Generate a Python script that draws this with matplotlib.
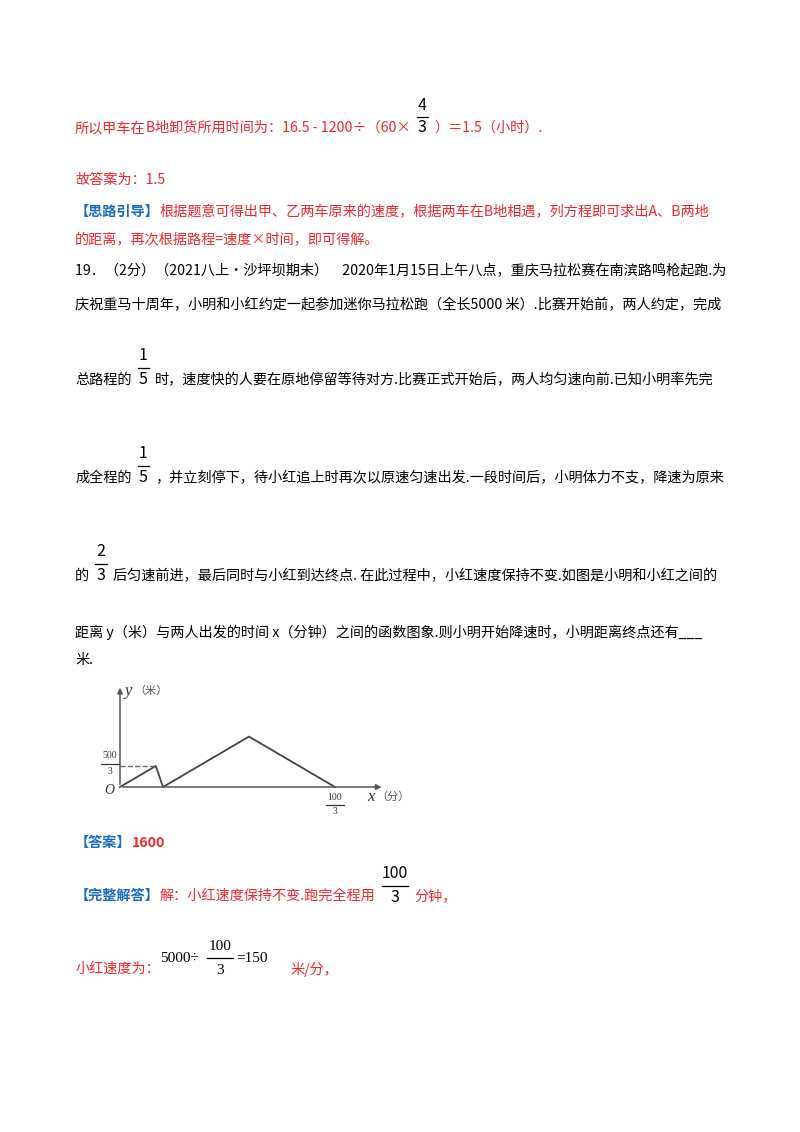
import matplotlib.pyplot as plt

plt.rcParams['font.family'] = ['Noto Sans CJK SC', 'DejaVu Sans']

RED = '#f0282d'
BLUE = '#1a6bc4'
W, H = 800, 1132
FS = 10.2

# graph data: time x (min), distance y (m)
graph_x = [0, 50 / 9, 20 / 3, 20, 100 / 3]
graph_y = [0, 500 / 3, 0, 400, 0]

fig = plt.figure(figsize=(8, 11.32), dpi=100)
renderer = fig.canvas.get_renderer()


def T(x, y, s, c='black', size=FS, ha='left', **kw):
    t = fig.text(x / W, 1 - y / H, s, color=c, fontsize=size, va='center', ha=ha, **kw)
    return t.get_window_extent(renderer).x1


def frac(xc, yn, yd, num, den, c='black', size=11.5, serif=False):
    kw = dict(family=['Liberation Serif']) if serif else {}
    fig.text(xc / W, 1 - yn / H, num, color=c, fontsize=size, ha='center', va='center', **kw)
    fig.text(xc / W, 1 - yd / H, den, color=c, fontsize=size, ha='center', va='center', **kw)
    half = 3.3 * len(num) * size / 10 + 2
    fig.add_artist(plt.Line2D([(xc - half) / W, (xc + half) / W],
                              [1 - (yn + yd) / 2 / H] * 2, color=c, lw=0.9))
    return xc + half


def seq(x, y, parts, yn=None, yd=None):
    # parts: (text, color, kw) or ('FRAC', num, den)
    for p in parts:
        if p[0] == 'FRAC':
            half = 3.3 * len(p[1]) * 1.15 + 2
            x = frac(x + 6 + half, yn, yd, p[1], p[2]) + 6
        else:
            kw = p[2] if len(p) > 2 else {}
            x = T(x, y, p[0], p[1], **kw)
    return x


seq(75, 128, [('所以甲车在', RED), ('B', RED, dict(style='italic')),
              ('地卸货所用时间为：16.5 - 1200÷（60×', RED), ('FRAC', '4', '3'),
              ('）＝1.5（小时）.', RED)], 106, 128)

T(75, 180, '故答案为：1.5', RED)
seq(75, 212, [('【思路引导】', BLUE, dict(weight='bold')),
              ('根据题意可得出甲、乙两车原来的速度，根据两车在B地相遇，列方程即可求出A、B两地', RED)])
T(75, 240, '的距离，再次根据路程=速度×时间，即可得解。', RED)

T(75, 271, '19．（2分）（2021八上·沙坪坝期末）　2020年1月15日上午八点，重庆马拉松赛在南滨路鸣枪起跑.为')
T(75, 305, '庆祝重马十周年，小明和小红约定一起参加迷你马拉松跑（全长5000 米）.比赛开始前，两人约定，完成')
seq(75, 380, [('总路程的', 'black'), ('FRAC', '1', '5'),
              ('时，速度快的人要在原地停留等待对方.比赛正式开始后，两人均匀速向前.已知小明率先完', 'black')],
    355, 380)
seq(75, 478, [('成全程的', 'black'), ('FRAC', '1', '5'),
              ('，并立刻停下，待小红追上时再次以原速匀速出发.一段时间后，小明体力不支，降速为原来', 'black')],
    454, 478)
seq(75, 576, [('的', 'black'), ('FRAC', '2', '3'),
              ('后匀速前进，最后同时与小红到达终点. 在此过程中，小红速度保持不变.如图是小明和小红之间的', 'black')],
    552, 576)
T(75, 632, '距离 y（米）与两人出发的时间 x（分钟）之间的函数图象.则小明开始降速时，小明距离终点还有___')
T(75, 660, '米.')

# graph: origin at pixel (120, 787)
ox, oy = 120, 787
pxu, pyu = 6.45, 21 / (500 / 3)
xmax, ymax = 42, 850
ax = fig.add_axes([ox / W, 1 - oy / H, xmax * pxu / W, ymax * pyu / H])
ax.set_xlim(0, xmax)
ax.set_ylim(0, ymax)
ax.axis('off')
ax.plot(graph_x, graph_y, color='#444444', lw=1.3, clip_on=False)
ax.plot([0, graph_x[1]], [graph_y[1]] * 2, color='#666666', lw=1, ls='--', clip_on=False)
ax.annotate('', xy=(41, 0), xytext=(0, 0),
            arrowprops=dict(arrowstyle='-|>', color='#555555', lw=1.1, mutation_scale=8))
ax.annotate('', xy=(0, 810), xytext=(0, 0),
            arrowprops=dict(arrowstyle='-|>', color='#555555', lw=1.1, mutation_scale=8))
T(124, 691, 'y', '#333333', size=12, style='italic', family=['Liberation Serif'])
T(134, 691, '（米）', '#555555', size=8)
frac(110, 756, 772, '500', '3', c='#333333', size=7, serif=True)
T(104, 791, 'O', '#333333', size=10, style='italic', family=['Liberation Serif'])
frac(335, 798, 812, '100', '3', c='#333333', size=7, serif=True)
T(367, 797, 'x', '#333333', size=12, style='italic', family=['Liberation Serif'])
T(376, 797, '（分）', '#555555', size=8)

seq(75, 843, [('【答案】', BLUE, dict(weight='bold')), ('1600', RED, dict(weight='bold'))])
seq(75, 896, [('【完整解答】', BLUE, dict(weight='bold')),
              ('解：小红速度保持不变.跑完全程用', RED), ('FRAC', '100', '3'), ('分钟，', RED)],
    874, 897)
T(75, 969, '小红速度为：', RED)
T(160, 958, '5000÷', size=11, family=['Liberation Serif'])
frac(220, 946, 970, '100', '3', size=11, serif=True)
T(236, 958, '=150', size=11, family=['Liberation Serif'])
T(290, 969, '米/分，', RED)

fig.savefig('out.png', dpi=100)
